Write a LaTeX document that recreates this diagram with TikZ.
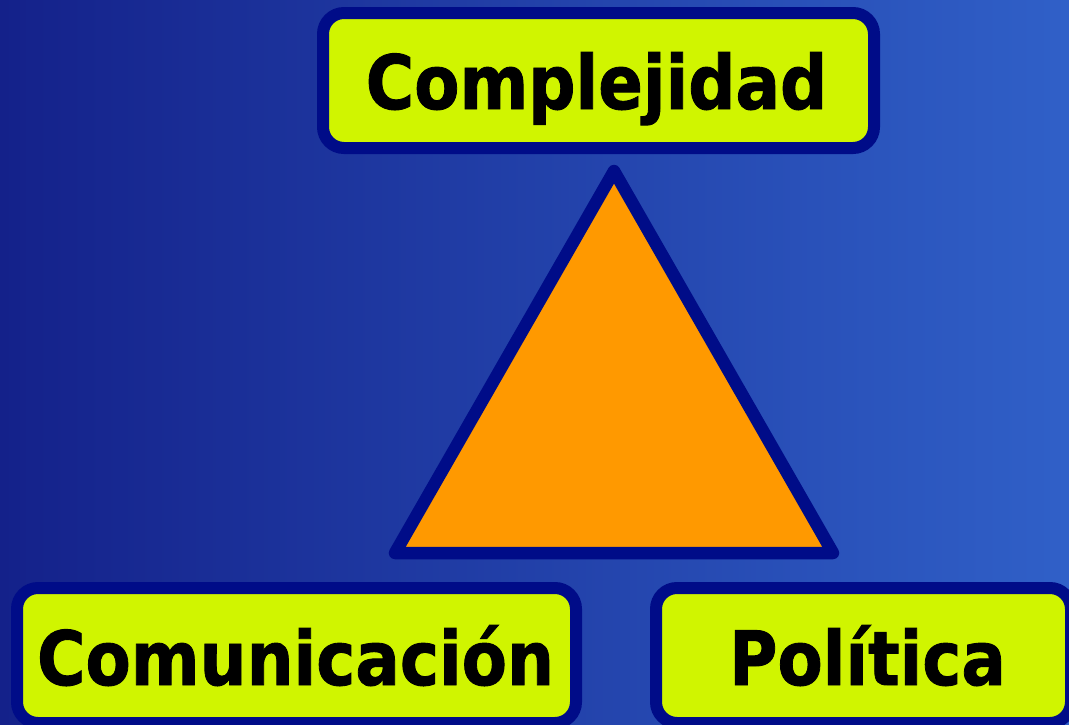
\documentclass[tikz,border=0pt]{standalone}
\usepackage{fontspec}
\usepackage{graphicx}
\newfontfamily\lblfont[FakeBold=1.2]{DejaVu Sans}
\definecolor{bgL}{HTML}{14218A}
\definecolor{bgR}{HTML}{3060C8}
\definecolor{boxfill}{HTML}{D0F500}
\definecolor{navy}{HTML}{000C88}
\definecolor{tri}{HTML}{FF9900}
\begin{document}
\begin{tikzpicture}[x=1pt,y=-1pt,
  box/.style={draw=navy, fill=boxfill, line width=12pt, rounded corners=21pt, inner sep=0pt, outer sep=0pt},
  lbl/.style={anchor=base, inner sep=0pt, font=\lblfont\bfseries\fontsize{75}{90}\selectfont, text=black},
  trishape/.style={draw=navy, fill=tri, line width=12.5pt, line join=round}]
\useasboundingbox (0,0) rectangle (1069,724);
\clip (0,0) rectangle (1069,724);
\shade[left color=bgL, right color=bgR] (0,0) rectangle (1069,724);
% boxes
\node[box, minimum width=551pt, minimum height=135pt] (cbox) at (598.5,80.5) {};
\node[box, minimum width=559pt, minimum height=135pt] (mbox) at (296.5,655.5) {};
\node[box, minimum width=415pt, minimum height=135pt] (pbox) at (863.5,655.5) {};
% labels
\node[lbl] (tc) at (596.5,109) {\scalebox{0.88}[1]{Complejidad}};
\node[lbl] (tm) at (295.5,685) {\scalebox{0.88}[1]{Comunicación}};
\node[lbl] (tp) at (867.5,685) {\scalebox{0.88}[1]{Política}};
% triangle
\coordinate (apex) at (614,171);
\coordinate (bl) at (395,553);
\coordinate (br) at (833,553);
\draw[trishape] (apex) -- (bl) -- (br) -- cycle;
\end{tikzpicture}
\end{document}
